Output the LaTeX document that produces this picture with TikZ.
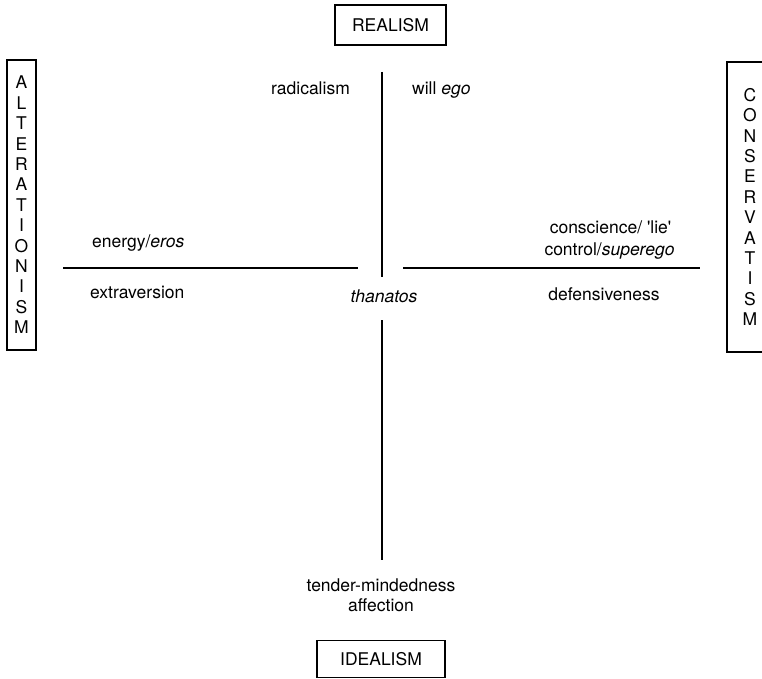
\documentclass[tikz,border=0pt]{standalone}
\usepackage{fontspec}
\setmainfont{TeX Gyre Heros}
\begin{document}
\begin{tikzpicture}[x=1pt,y=-1pt,
  every node/.style={font=\fontsize{17.5}{20.4}\selectfont},
  term/.style={inner sep=0pt},
  polebox/.style={draw, line width=1.1pt, inner sep=0pt, align=center},
  axis/.style={line width=1.4pt}]
\clip (0,0) rectangle (762,679);

% poles
\node[polebox, minimum width=111pt, minimum height=40pt] (realism) at (390.5,25) {REALISM};
\node[polebox, minimum width=128pt, minimum height=37pt] (idealism) at (381,659) {IDEALISM};
\node[polebox, minimum width=29pt, minimum height=290pt] (alter) at (21.5,205)
  {A\\L\\T\\E\\R\\A\\T\\I\\O\\N\\I\\S\\M};
\node[polebox, minimum width=46pt, minimum height=290pt] (cons) at (750,207)
  {C\\O\\N\\S\\E\\R\\V\\A\\T\\I\\S\\M};

% axes
\coordinate (vtop) at (382,72);
\coordinate (vmidA) at (382,277);
\coordinate (vmidB) at (382,320);
\coordinate (vbot) at (382,560);
\coordinate (hl1) at (63,268);
\coordinate (hl2) at (358,268);
\coordinate (hr1) at (403,268);
\coordinate (hr2) at (700,268);
\draw[axis] (vtop) -- (vmidA);
\draw[axis] (vmidB) -- (vbot);
\draw[axis] (hl1) -- (hl2);
\draw[axis] (hr1) -- (hr2);

% quadrant terms
\node[term, anchor=base] (radical) at (310.5,95) {radicalism};
\node[term, anchor=base west] (will) at (412,95) {will \textit{ego}};
\node[term, anchor=base west] (energy) at (92,247) {energy/\textit{eros}};
\node[term, anchor=base west] (extra) at (90,298) {extraversion};
\node[term, anchor=base] (thanatos) at (384,302) {\textit{thanatos}};
\node[term, anchor=base] (consc) at (610.5,233) {conscience/ \textquotesingle lie\textquotesingle};
\node[term, anchor=base] (control) at (609.5,255) {control/\textit{superego}};
\node[term, anchor=base] (defens) at (604,300) {defensiveness};
\node[term, anchor=base] (tender) at (381,591) {tender-mindedness};
\node[term, anchor=base] (affect) at (381,611) {affection};
\end{tikzpicture}
\end{document}
